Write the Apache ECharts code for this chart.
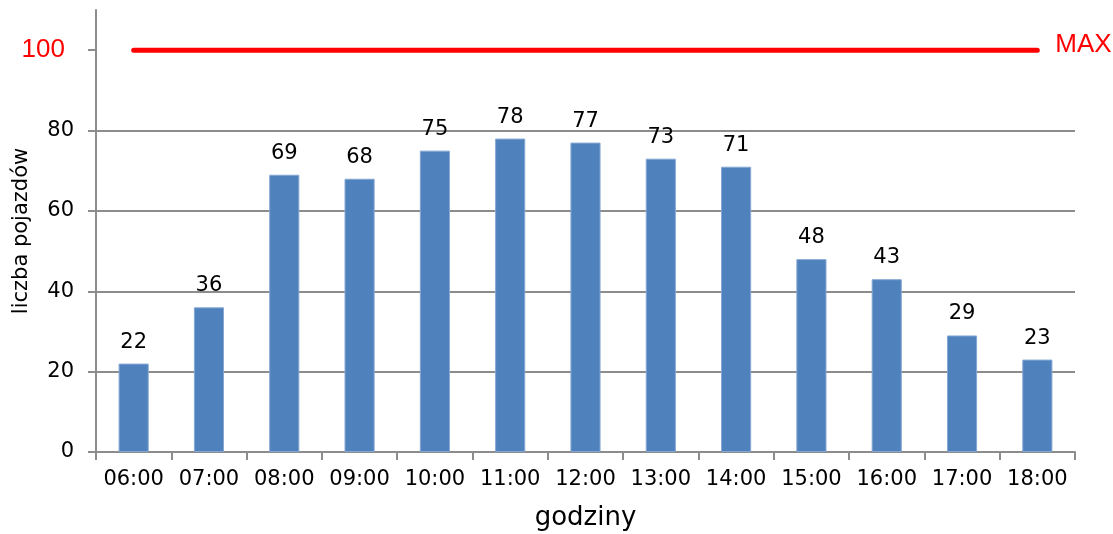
<!DOCTYPE html>
<html>
<head>
<meta charset="utf-8">
<script src="https://cdn.jsdelivr.net/npm/echarts@6/dist/echarts.min.js"></script>
<style>
    html, body { margin: 0; padding: 0; background: #fff; }
    #chart { width: 1113px; height: 534px; }
</style>
</head>
<body>
<div id="chart"></div>
<script>
// godziny pomiaru
let hours = ['06:00', '07:00', '08:00', '09:00', '10:00', '11:00', '12:00',
             '13:00', '14:00', '15:00', '16:00', '17:00', '18:00'];
// liczba pojazdów w każdej godzinie
let vehicles = [22, 36, 69, 68, 75, 78, 77, 73, 71, 48, 43, 29, 23];
// wartości na osi Y
let yTicks = [0, 20, 40, 60, 80, 100];
// poziom MAX
let maxLevel = 100;
let maxLine = hours.map(function () { return maxLevel; });

let axisGray = '#8c8c8c';

function drawTrafficChart() {
    let myChart = echarts.init(document.getElementById('chart'));
    let option = {
        animation: false,
        grid: {
            left: 96,
            right: 38,
            top: 10,
            bottom: 82,
            outerBoundsMode: 'none'
        },
        xAxis: {
            type: 'category',
            data: hours,
            name: 'godziny',
            nameLocation: 'middle',
            nameGap: 53,
            nameMoveOverlap: false,
            nameTextStyle: { fontFamily: 'DejaVu Sans', fontSize: 26, color: '#000' },
            axisLine: { lineStyle: { color: axisGray, width: 2 } },
            axisTick: { show: true, length: 8, lineStyle: { color: axisGray, width: 2 } },
            axisLabel: {
                interval: 0,
                hideOverlap: false,
                fontFamily: 'DejaVu Sans',
                fontSize: 21,
                color: '#000',
                margin: 17
            }
        },
        yAxis: {
            type: 'value',
            min: 0,
            max: 110,
            interval: 20,
            name: 'liczba pojazdów',
            nameLocation: 'middle',
            nameGap: 64,
            nameMoveOverlap: false,
            nameTextStyle: { fontFamily: 'DejaVu Sans', fontSize: 21, color: '#000' },
            axisLine: { show: true, lineStyle: { color: axisGray, width: 2 } },
            axisTick: {
                show: true,
                length: 8,
                customValues: yTicks,
                lineStyle: { color: axisGray, width: 2 }
            },
            splitLine: {
                lineStyle: {
                    color: [axisGray, axisGray, axisGray, axisGray, axisGray, 'transparent', 'transparent'],
                    width: 2
                }
            },
            axisLabel: {
                margin: 22,
                color: '#000',
                fontFamily: 'DejaVu Sans',
                fontSize: 21,
                customValues: yTicks,
                formatter: function (v) {
                    if (v === maxLevel) return '{r|' + v + '}';
                    return v;
                },
                rich: {
                    r: {
                        color: '#ff0000',
                        fontFamily: 'Liberation Sans',
                        fontSize: 26,
                        padding: [0, 9, 0, 0]
                    }
                }
            }
        },
        series: [
            {
                name: 'liczba pojazdów',
                type: 'bar',
                data: vehicles,
                barWidth: '40%',
                itemStyle: { color: '#4f81bd', borderColor: '#85a7d4', borderWidth: 1 },
                label: {
                    show: true,
                    position: 'top',
                    distance: 11,
                    fontFamily: 'DejaVu Sans',
                    fontSize: 21,
                    color: '#000'
                }
            },
            {
                name: 'MAX',
                type: 'line',
                data: maxLine,
                symbol: 'none',
                lineStyle: { color: '#ff0000', width: 5, cap: 'round' },
                endLabel: {
                    show: true,
                    formatter: 'MAX',
                    distance: 18,
                    color: '#ff0000',
                    fontFamily: 'Liberation Sans',
                    fontSize: 26,
                    offset: [0, -5]
                }
            }
        ]
    };
    myChart.setOption(option);
}

drawTrafficChart();
</script>
</body>
</html>
